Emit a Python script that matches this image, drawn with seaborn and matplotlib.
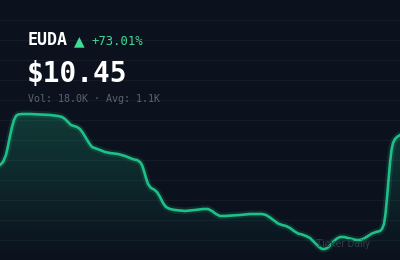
import numpy as np
import pandas as pd
import matplotlib
matplotlib.use("Agg")
import matplotlib.pyplot as plt
import seaborn as sns

# ---- data (y = level, higher = higher price) ----
ticker = "EUDA"
change_label = "+73.01%"
price_label = "$10.45"
volume_label = "Vol: 18.0K · Avg: 1.1K"
watermark = "Ticker Daily"

t = [0, 3, 6, 8, 10, 12, 14, 16, 18, 22, 30, 40, 50, 58, 62, 65, 68, 71, 74, 77, 80,
     83, 86, 89, 92, 96, 100, 105, 110, 118, 125, 130, 134, 137, 140, 142, 144, 146,
     148, 151, 154, 157, 160, 163, 166, 170, 175, 185, 195, 203, 208, 212, 216, 220,
     225, 232, 240, 250, 262, 266, 270, 274, 278, 282, 286, 290, 294, 298, 302, 306,
     310, 313, 316, 319, 322, 325, 328, 331, 334, 337, 340, 344, 348, 352, 356, 360,
     364, 368, 372, 376, 380, 382, 384, 385.5, 387, 388.5, 390, 391.5, 393, 395, 397,
     400]
ypix = [165, 162, 155, 146, 136, 127, 120, 116, 114.5, 114, 114, 114.5, 115, 116,
        117, 119, 122, 125, 126, 127, 129, 133, 138, 143, 147, 148.5, 150, 152, 153,
        154, 156, 158, 159.5, 160, 162, 165, 171, 178, 184, 188, 189.5, 192, 197, 203,
        207, 209, 210, 211, 210, 209, 209, 211, 214, 216, 216, 215.5, 215, 214, 214,
        215, 217.5, 220.5, 223.5, 225, 226, 228, 231, 233.5, 234.5, 236, 238, 241,
        244, 247, 249, 249, 247.5, 244.5, 241, 238.5, 237, 237, 238, 239, 240, 240,
        238.5, 236, 233.5, 232, 231, 229, 224, 214, 198, 180, 163, 150, 143, 139, 137,
        135]
level = [260 - v for v in ypix]

BG = "#0b111d"
GRID = "#141b27"
LINE = "#1fbf88"

sns.set_theme(style="dark")
plt.rcParams["font.family"] = ["DejaVu Sans Mono", "DejaVu Sans"]

fig = plt.figure(figsize=(4, 2.6), dpi=100, facecolor=BG)
ax = fig.add_axes([0, 0, 1, 1])
ax.set_facecolor(BG)

df = pd.DataFrame({"t": t, "level": level})

# gradient fill under the line
poly = ax.fill_between(df["t"], df["level"], 0, color="none", lw=0)
top = max(level)
n = 256
grad = np.zeros((n, 1, 4))
c = matplotlib.colors.to_rgb(LINE)
grad[:, 0, 0] = c[0]; grad[:, 0, 1] = c[1]; grad[:, 0, 2] = c[2]
grad[:, 0, 3] = np.linspace(0.24, 0.0, n)
im = ax.imshow(grad, extent=[0, 400, 0, top], origin="upper", aspect="auto", zorder=1)
path = poly.get_paths()[0]
im.set_clip_path(path, transform=ax.transData)

# glow + line
sns.lineplot(data=df, x="t", y="level", ax=ax, color=LINE, lw=5, alpha=0.15, zorder=2)
sns.lineplot(data=df, x="t", y="level", ax=ax, color=LINE, lw=1.9, zorder=3,
             solid_joinstyle="round", solid_capstyle="round")

ax.set_xlim(0, 400)
ax.set_ylim(0, 260)
ax.set_yticks(np.arange(20, 260, 20))
ax.set_xticks([])
ax.grid(axis="y", color=GRID, lw=1.0)
ax.grid(axis="x", visible=False)
ax.tick_params(left=False, bottom=False, labelleft=False, labelbottom=False)
for s in ax.spines.values():
    s.set_visible(False)
ax.set_xlabel("")
ax.set_ylabel("")

def px(x, y):
    return x / 400, 1 - y / 260

fig.text(*px(28, 44.5), ticker, color="white", fontsize=12, fontweight="bold", va="baseline")
fig.text(*px(74, 45), "▲", color="#3ddc97", fontsize=10, va="baseline", family="DejaVu Sans")
fig.text(*px(91, 44.5), change_label, color="#3ddc97", fontsize=8.8, va="baseline")
fig.text(*px(27, 82), price_label, color="white", fontsize=20, fontweight="bold", va="baseline")
fig.text(*px(28, 102), volume_label, color="#5b6372", fontsize=7.2, va="baseline")
fig.text(*px(316, 247), watermark, color="#333a46", fontsize=7.6, va="baseline",
         family=["Roboto", "DejaVu Sans"])

fig.savefig("out.png", dpi=100, facecolor=BG)
